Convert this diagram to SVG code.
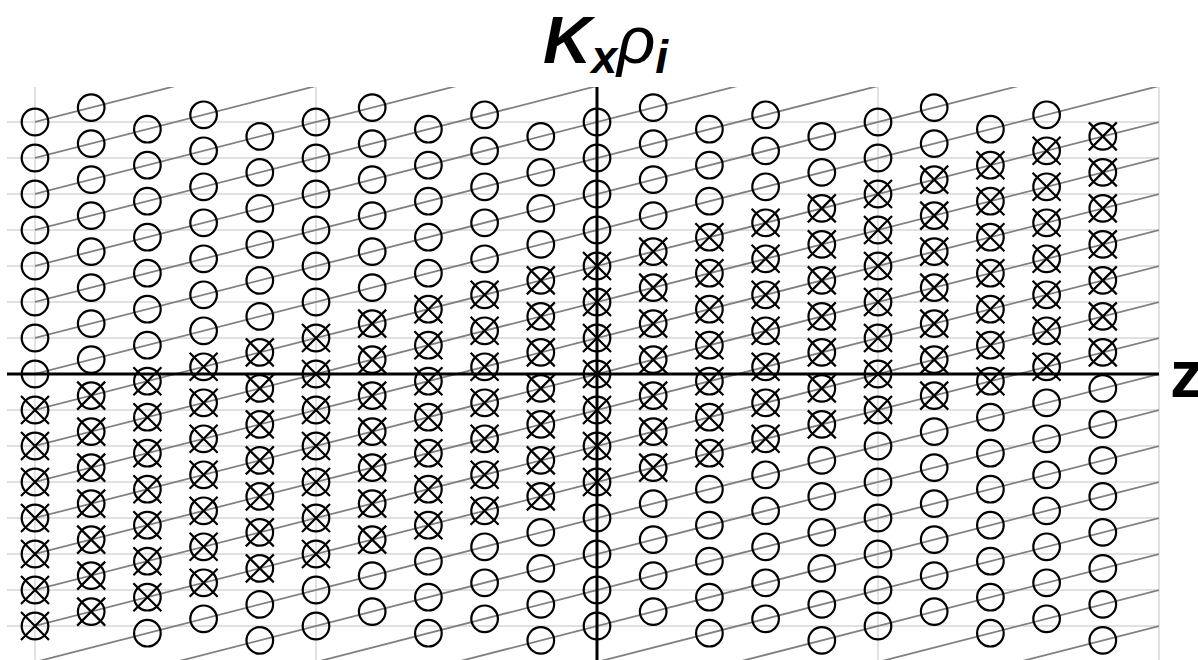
<svg xmlns="http://www.w3.org/2000/svg" xmlns:xlink="http://www.w3.org/1999/xlink" width="1198" height="660" viewBox="0 0 1198 660">
<style>
.grid{fill:none;stroke:#d6d6d6;stroke-width:1.4}
.slope{fill:none;stroke:#808080;stroke-width:1.8}
.axis{fill:none;stroke:#000;stroke-width:3}
.lbl{font-family:"Liberation Sans",Arial,sans-serif;fill:#000}
</style>
<defs>
<clipPath id="plot"><rect x="35" y="87" width="1124" height="583"/></clipPath>
<circle id="o" r="13.3" fill="none" stroke="#000" stroke-width="2.2"/>
<g id="x" fill="none" stroke="#000" stroke-width="2.2"><circle r="13.3"/><path d="M-14-14L14 14M-14 14L14-14"/></g>
<g id="p8"><use href="#o"/><use href="#o" y="36"/><use href="#o" y="72"/><use href="#o" y="108"/><use href="#o" y="144"/><use href="#o" y="180"/><use href="#o" y="216"/><use href="#o" y="252"/><use href="#x" y="288"/><use href="#x" y="324"/><use href="#x" y="360"/><use href="#x" y="396"/><use href="#x" y="432"/><use href="#x" y="468"/><use href="#x" y="504"/></g>
<g id="p7"><use href="#o"/><use href="#o" y="36"/><use href="#o" y="72"/><use href="#o" y="108"/><use href="#o" y="144"/><use href="#o" y="180"/><use href="#o" y="216"/><use href="#x" y="252"/><use href="#x" y="288"/><use href="#x" y="324"/><use href="#x" y="360"/><use href="#x" y="396"/><use href="#x" y="432"/><use href="#x" y="468"/><use href="#o" y="504"/></g>
<g id="p6"><use href="#o"/><use href="#o" y="36"/><use href="#o" y="72"/><use href="#o" y="108"/><use href="#o" y="144"/><use href="#o" y="180"/><use href="#x" y="216"/><use href="#x" y="252"/><use href="#x" y="288"/><use href="#x" y="324"/><use href="#x" y="360"/><use href="#x" y="396"/><use href="#x" y="432"/><use href="#o" y="468"/><use href="#o" y="504"/></g>
<g id="p5"><use href="#o"/><use href="#o" y="36"/><use href="#o" y="72"/><use href="#o" y="108"/><use href="#o" y="144"/><use href="#x" y="180"/><use href="#x" y="216"/><use href="#x" y="252"/><use href="#x" y="288"/><use href="#x" y="324"/><use href="#x" y="360"/><use href="#x" y="396"/><use href="#o" y="432"/><use href="#o" y="468"/><use href="#o" y="504"/></g>
<g id="p4"><use href="#o"/><use href="#o" y="36"/><use href="#o" y="72"/><use href="#o" y="108"/><use href="#x" y="144"/><use href="#x" y="180"/><use href="#x" y="216"/><use href="#x" y="252"/><use href="#x" y="288"/><use href="#x" y="324"/><use href="#x" y="360"/><use href="#o" y="396"/><use href="#o" y="432"/><use href="#o" y="468"/><use href="#o" y="504"/></g>
<g id="p3"><use href="#o"/><use href="#o" y="36"/><use href="#o" y="72"/><use href="#x" y="108"/><use href="#x" y="144"/><use href="#x" y="180"/><use href="#x" y="216"/><use href="#x" y="252"/><use href="#x" y="288"/><use href="#x" y="324"/><use href="#o" y="360"/><use href="#o" y="396"/><use href="#o" y="432"/><use href="#o" y="468"/><use href="#o" y="504"/></g>
<g id="p2"><use href="#o"/><use href="#o" y="36"/><use href="#x" y="72"/><use href="#x" y="108"/><use href="#x" y="144"/><use href="#x" y="180"/><use href="#x" y="216"/><use href="#x" y="252"/><use href="#x" y="288"/><use href="#o" y="324"/><use href="#o" y="360"/><use href="#o" y="396"/><use href="#o" y="432"/><use href="#o" y="468"/><use href="#o" y="504"/></g>
<g id="p1"><use href="#o"/><use href="#x" y="36"/><use href="#x" y="72"/><use href="#x" y="108"/><use href="#x" y="144"/><use href="#x" y="180"/><use href="#x" y="216"/><use href="#x" y="252"/><use href="#o" y="288"/><use href="#o" y="324"/><use href="#o" y="360"/><use href="#o" y="396"/><use href="#o" y="432"/><use href="#o" y="468"/><use href="#o" y="504"/></g>
<g id="p0"><use href="#x"/><use href="#x" y="36"/><use href="#x" y="72"/><use href="#x" y="108"/><use href="#x" y="144"/><use href="#x" y="180"/><use href="#x" y="216"/><use href="#o" y="252"/><use href="#o" y="288"/><use href="#o" y="324"/><use href="#o" y="360"/><use href="#o" y="396"/><use href="#o" y="432"/><use href="#o" y="468"/><use href="#o" y="504"/></g>
</defs>
<rect width="1198" height="660" fill="#fff"/>
<g id="grid" class="grid">
<path d="M7 122H1159M7 158H1159M7 194H1159M7 230H1159M7 266H1159M7 302H1159M7 338H1159M7 410H1159M7 446H1159M7 482H1159M7 518H1159M7 554H1159M7 590H1159M7 626H1159"/>
<path d="M35 87V660M316 87V660M878 87V660M1159 87V660"/>
</g>
<g id="connectors" class="slope" clip-path="url(#plot)">
<path d="M35 122L1159 -166M35 158L1159 -130M35 194L1159 -94M35 230L1159 -58M35 266L1159 -22M35 302L1159 14M35 338L1159 50M35 374L1159 86M35 410L1159 122M35 446L1159 158M35 482L1159 194M35 518L1159 230M35 554L1159 266M35 590L1159 302M35 626L1159 338M35 662L1159 374M35 698L1159 410M35 734L1159 446M35 770L1159 482M35 806L1159 518M35 842L1159 554M35 878L1159 590M35 914L1159 626M35 950L1159 662"/>
</g>
<g id="axes" class="axis">
<path d="M7 374H1159"/>
<path d="M597 87V660"/>
</g>
<g id="col0"><use href="#p8" x="35" y="122"/></g>
<g id="col1"><use href="#p8" x="91.2" y="107.6"/></g>
<g id="col2"><use href="#p7" x="147.4" y="129.2"/></g>
<g id="col3"><use href="#p7" x="203.6" y="114.8"/></g>
<g id="col4"><use href="#p6" x="259.8" y="136.4"/></g>
<g id="col5"><use href="#p6" x="316" y="122"/></g>
<g id="col6"><use href="#p6" x="372.2" y="107.6"/></g>
<g id="col7"><use href="#p5" x="428.4" y="129.2"/></g>
<g id="col8"><use href="#p5" x="484.6" y="114.8"/></g>
<g id="col9"><use href="#p4" x="540.8" y="136.4"/></g>
<g id="col10"><use href="#p4" x="597" y="122"/></g>
<g id="col11"><use href="#p4" x="653.2" y="107.6"/></g>
<g id="col12"><use href="#p3" x="709.4" y="129.2"/></g>
<g id="col13"><use href="#p3" x="765.6" y="114.8"/></g>
<g id="col14"><use href="#p2" x="821.8" y="136.4"/></g>
<g id="col15"><use href="#p2" x="878" y="122"/></g>
<g id="col16"><use href="#p2" x="934.2" y="107.6"/></g>
<g id="col17"><use href="#p1" x="990.4" y="129.2"/></g>
<g id="col18"><use href="#p1" x="1046.6" y="114.8"/></g>
<g id="col19"><use href="#p0" x="1102.8" y="136.4"/></g>
<g id="label-y"><text class="lbl" x="543" y="63" font-size="67" font-weight="bold" font-style="italic">K<tspan font-size="46" dy="10">x</tspan><tspan font-size="67" font-weight="normal" dy="-10">ρ</tspan><tspan font-size="46" dy="10">i</tspan></text></g>
<g id="label-x"><text class="lbl" x="1170" y="397" font-size="67" font-weight="bold">z</text></g>
</svg>
